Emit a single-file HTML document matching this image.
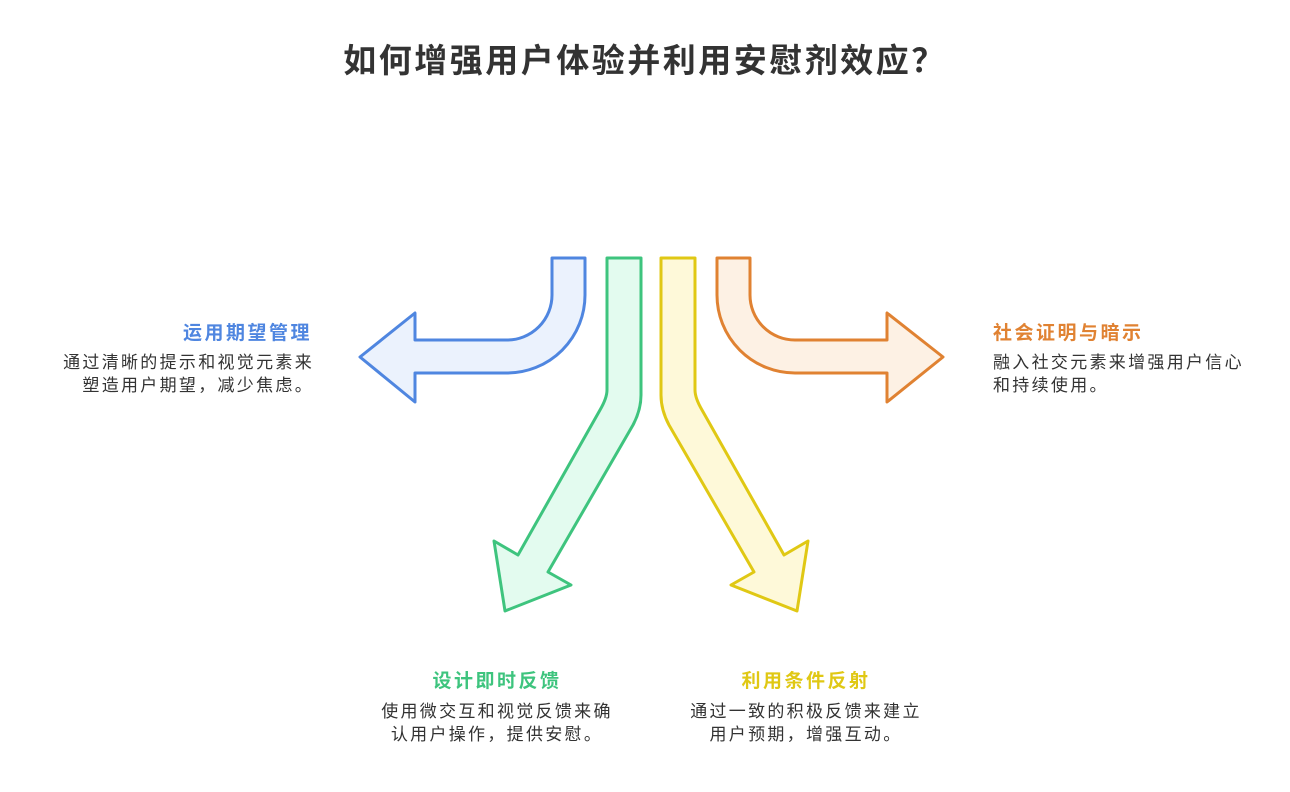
<!DOCTYPE html>
<html><head><meta charset="utf-8"><style>
body{margin:0;width:1290px;height:792px;background:#fff;position:relative;overflow:hidden;font-family:"Liberation Sans","Noto Sans CJK SC",sans-serif;}
.t{position:absolute;white-space:nowrap;}
.title{left:0;width:1290px;top:34px;text-align:center;font-size:33px;font-weight:bold;color:#333;letter-spacing:2.5px;}
.h{font-size:19px;font-weight:bold;letter-spacing:2.5px;}
.d{font-size:17px;color:#333;letter-spacing:2.3px;line-height:23px;}
</style></head><body>
<div class="t title">如何增强用户体验并利用安慰剂效应？</div>
<svg width="1290" height="792" style="position:absolute;left:0;top:0" stroke-width="3" stroke-linejoin="round">
<path d="M552,258 L585,258 L585,295 A78,78 0 0 1 507,373 L415,373 L415,402 L360,357 L415,313 L415,340 L507,340 A45,45 0 0 0 552,295 Z" fill="#ebf2fd" stroke="#4f86e0"/>
<path d="M607,258 L641,258 L641,395 Q641,410 633,425 L548,572 L571,585 L505,611 L494,541 L518,555 L600,410 Q607,398 607,390 Z" fill="#e3fbef" stroke="#3ec47e"/>
<path d="M695,258 L661,258 L661,395 Q661,410 669,425 L754,572 L731,585 L797,611 L808,541 L784,555 L702,410 Q695,398 695,390 Z" fill="#fef9d9" stroke="#e0c814"/>
<path d="M750,258 L717,258 L717,295 A78,78 0 0 0 795,373 L887,373 L887,402 L943,357 L887,313 L887,340 L795,340 A45,45 0 0 1 750,295 Z" fill="#fdf1e4" stroke="#e08232"/>
</svg>
<div class="t h" style="right:978px;top:318px;color:#4f86e0;text-align:right">运用期望管理</div>
<div class="t d" style="right:976px;top:351px;text-align:right">通过清晰的提示和视觉元素来<br>塑造用户期望，减少焦虑。</div>
<div class="t h" style="left:993px;top:318px;color:#e08232">社会证明与暗示</div>
<div class="t d" style="left:993px;top:351px">融入社交元素来增强用户信心<br>和持续使用。</div>
<div class="t h" style="left:347px;width:300px;top:666px;color:#3ec47e;text-align:center">设计即时反馈</div>
<div class="t d" style="left:347px;width:300px;top:700px;text-align:center">使用微交互和视觉反馈来确<br>认用户操作，提供安慰。</div>
<div class="t h" style="left:656px;width:300px;top:666px;color:#e0c814;text-align:center">利用条件反射</div>
<div class="t d" style="left:656px;width:300px;top:700px;text-align:center">通过一致的积极反馈来建立<br>用户预期，增强互动。</div>
</body></html>
